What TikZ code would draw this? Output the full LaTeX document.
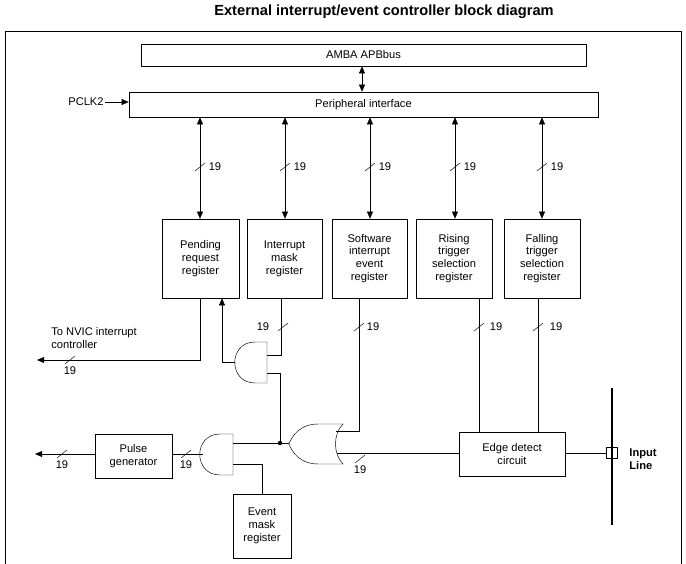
\documentclass[tikz,border=0pt]{standalone}
\usepackage{fontspec}
\setmainfont{Liberation Sans}
\usetikzlibrary{arrows.meta,positioning}
\tikzset{
  blk/.style={draw,align=center,inner sep=0pt,font=\fontsize{9.5}{11}\selectfont},
  wire/.style={thin},
  bus/.style={thin,>={Triangle[length=6pt,width=5pt]}},
  lbl/.style={font=\fontsize{9.5}{11}\selectfont,inner sep=1pt}
}
\newcommand{\busmark}[1]{\draw[thin] ($(#1)+(-5,4)$) -- ($(#1)+(5,-4)$);}
\usetikzlibrary{calc}
\begin{document}
\begin{tikzpicture}[x=0.03cm,y=-0.03cm]
\useasboundingbox (0,0) rectangle (686,564);
% frame and title
\draw[thin] (5,564) -- (5,31) -- (681,31) -- (681,564);
\node[font=\bfseries\fontsize{12.5}{14}\selectfont] (title) at (384,12) {External interrupt/event controller block diagram};
% bus interface
\node[blk,minimum width=445*0.03cm,minimum height=22*0.03cm] (amba) at (363.5,55) {AMBA APBbus};
\node[blk,minimum width=469*0.03cm,minimum height=25*0.03cm] (perif) at (363.5,104.5) {Peripheral interface};
\node[lbl,anchor=east] (pclk) at (105,102) {PCLK2};
\draw[bus,->] (pclk.east) -- (perif.west |- pclk.east);
\draw[bus,<->] (amba.south -| 362,0) -- (perif.north -| 362,0);
% registers
\node[blk,minimum width=77*0.03cm,minimum height=79*0.03cm] (pend) at (200.5,258.5) {Pending\\request\\register};
\node[blk,minimum width=75*0.03cm,minimum height=79*0.03cm] (imask) at (284.5,258.5) {Interrupt\\mask\\register};
\node[blk,minimum width=75*0.03cm,minimum height=79*0.03cm] (swie) at (369.5,258.5) {Software\\interrupt\\event\\register};
\node[blk,minimum width=76*0.03cm,minimum height=79*0.03cm] (rise) at (454,258.5) {Rising\\trigger\\selection\\register};
\node[blk,minimum width=76*0.03cm,minimum height=79*0.03cm] (fall) at (542,258.5) {Falling\\trigger\\selection\\register};
\foreach \r/\x in {pend/200,imask/285,swie/370,rise/455,fall/542}{
  \draw[bus,<->] (perif.south -| \x,0) -- (\r.north -| \x,0);
  \busmark{\x,167}
  \node[lbl] at (\x+15,167) {19};
}
% other blocks
\node[blk,minimum width=106*0.03cm,minimum height=44*0.03cm] (edge) at (512,454) {Edge detect\\circuit};
\node[blk,minimum width=77*0.03cm,minimum height=44*0.03cm] (pulse) at (133.5,456) {Pulse\\generator};
\node[blk,minimum width=58*0.03cm,minimum height=64*0.03cm] (emask) at (262,526) {Event\\mask\\register};
\node[draw,minimum size=11*0.03cm,inner sep=0pt,fill=white] (pin) at (611.5,453) {};
\node[lbl,font=\bfseries\fontsize{9.5}{11}\selectfont,align=left,anchor=west] (inl) at (628,459) {Input\\Line};
% gates
\draw[thin] (267,342) -- (255,342) .. controls (228,342) and (228,383) .. (255,383) -- (267,383) -- cycle;
\draw[thin] (233,434) -- (220,434) .. controls (193,434) and (193,475) .. (220,475) -- (233,475) -- cycle;
\draw[thin] (343,424) .. controls (333,434) and (333,454) .. (343,464) -- (318,464)
  .. controls (300,464) and (292,452) .. (289,444) .. controls (292,436) and (300,424) .. (318,424) -- cycle;
\coordinate (andA) at (235,362);
\coordinate (andB) at (203,454);
\coordinate (orout) at (289,443);
\coordinate (jn) at (280,443);
% input line
\draw[line width=1.6pt] (612,388) -- (612,525);
\draw[wire] (pin.west) -- (edge.east |- pin.west);
\draw[wire] (rise.south -| 479,0) -- (edge.north -| 479,0);
\draw[wire] (fall.south -| 538,0) -- (edge.north -| 538,0);
\busmark{479,327} \node[lbl] at (496,327) {19};
\busmark{538,327} \node[lbl] at (556,327) {19};
\draw[wire] (edge.west |- 0,453) -- (337,453);
\busmark{360,459} \node[lbl] at (360,470) {19};
\draw[wire] (swie.south -| 359,0) -- (359,431) -- (336,431);
\busmark{359,327} \node[lbl] at (373,327) {19};
% OR output to gates
\draw[wire] (orout) -- (233,443);
\fill (jn) circle (2.2);
\draw[wire] (jn) -- (280,373) -- (267,373);
\draw[wire] (imask.south -| 281,0) -- (281,355) -- (267,355);
\busmark{283,327} \node[lbl] at (263,327) {19};
\draw[bus,->] (andA) -- (222,362) -- (pend.south -| 222,0);
\draw[wire] (emask.north) -- (262,464) -- (233,464);
% outputs
\draw[bus,->] (pend.south -| 200,0) -- (200,360) -- (37,360);
\busmark{70,360} \node[lbl] at (70,371) {19};
\node[lbl,align=left,anchor=west] (nvic) at (50,338) {To NVIC interrupt\\controller};
\draw[wire] (andB) -- (pulse.east |- andB);
\busmark{186,454} \node[lbl] at (186,465) {19};
\draw[bus,->] (pulse.west |- 0,454) -- (35,454);
\busmark{62,454} \node[lbl] at (62,465) {19};
\end{tikzpicture}
\end{document}
